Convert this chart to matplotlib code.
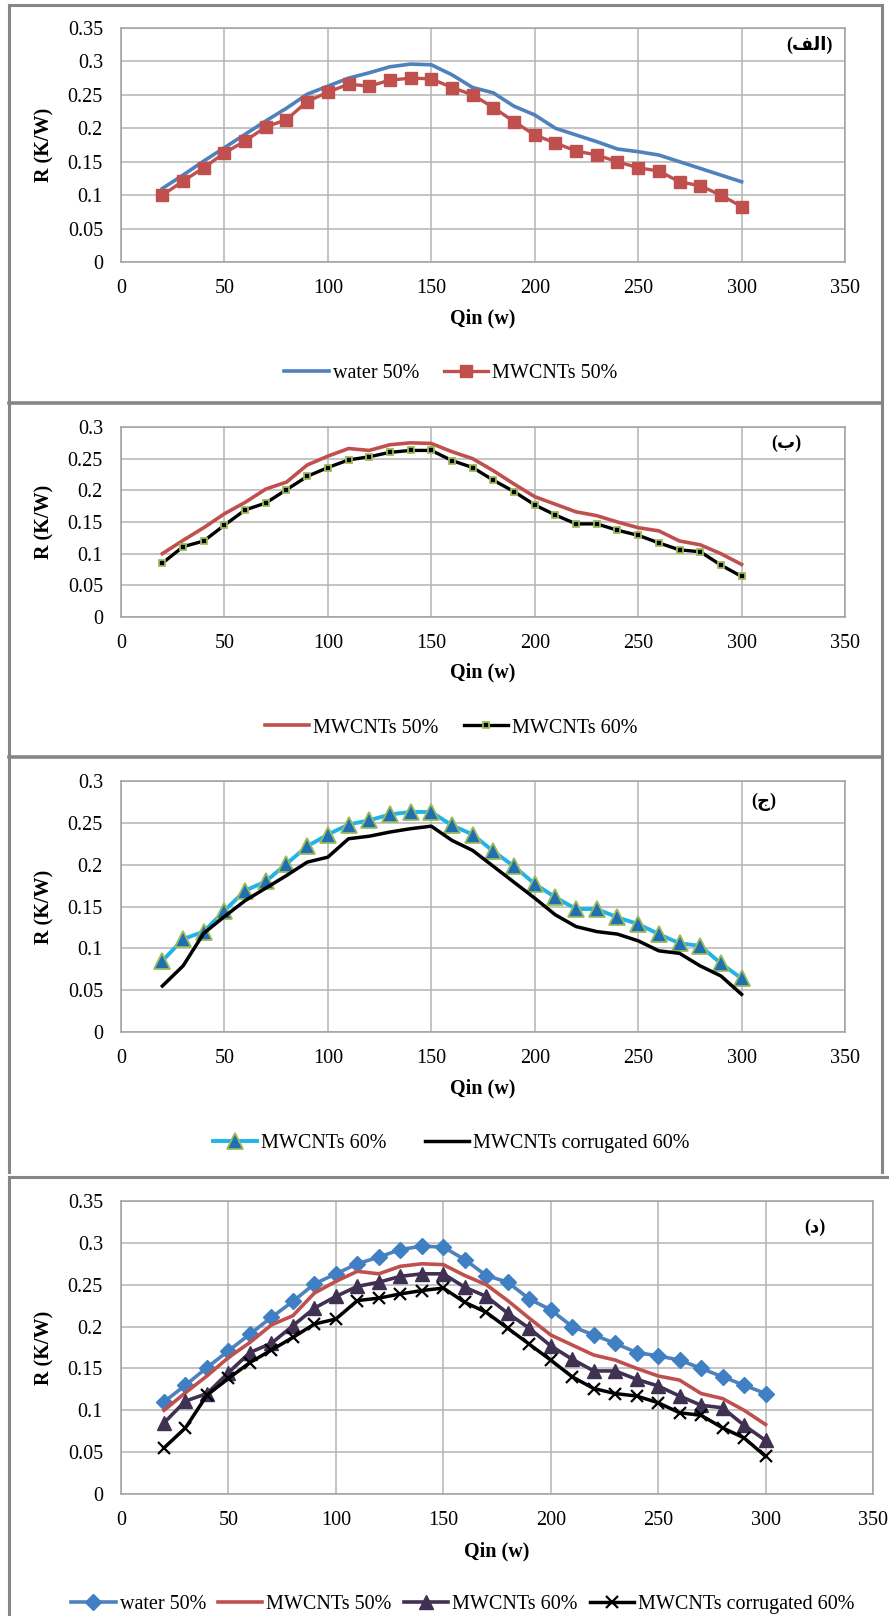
import matplotlib
matplotlib.use('Agg')
import matplotlib.pyplot as plt
from matplotlib.lines import Line2D

# ---------------- data ----------------
qin = [20, 30, 40, 50, 60, 70, 80, 90, 100, 110, 120, 130, 140, 150, 160,
       170, 180, 190, 200, 210, 220, 230, 240, 250, 260, 270, 280, 290, 300]

water50 = [0.110, 0.130, 0.151, 0.171, 0.191, 0.211, 0.230, 0.251, 0.263, 0.275,
           0.283, 0.292, 0.296, 0.295, 0.280, 0.261, 0.253, 0.233, 0.220, 0.200,
           0.190, 0.180, 0.169, 0.165, 0.160, 0.150, 0.140, 0.130, 0.120]

mwcnt50 = [0.100, 0.121, 0.141, 0.163, 0.181, 0.202, 0.213, 0.240, 0.254, 0.266,
           0.263, 0.272, 0.275, 0.274, 0.261, 0.250, 0.231, 0.210, 0.190, 0.178,
           0.166, 0.160, 0.150, 0.141, 0.136, 0.120, 0.114, 0.100, 0.083]

mwcnt60 = [0.085, 0.111, 0.120, 0.145, 0.169, 0.180, 0.201, 0.222, 0.236, 0.248,
           0.253, 0.260, 0.263, 0.263, 0.247, 0.236, 0.216, 0.198, 0.177, 0.161,
           0.147, 0.147, 0.137, 0.129, 0.117, 0.106, 0.103, 0.082, 0.064]

corr60 = [0.055, 0.079, 0.118, 0.138, 0.157, 0.172, 0.187, 0.203, 0.209, 0.231,
          0.234, 0.239, 0.243, 0.246, 0.229, 0.217, 0.198, 0.179, 0.160, 0.140,
          0.126, 0.120, 0.117, 0.109, 0.097, 0.094, 0.079, 0.067, 0.045]

x_ticks = [0, 50, 100, 150, 200, 250, 300, 350]
x_ticklabels = ['0', '50', '100', '150', '200', '250', '300', '350']
y_ticks_035 = [0, 0.05, 0.1, 0.15, 0.2, 0.25, 0.3, 0.35]
y_labels_035 = ['0', '0.05', '0.1', '0.15', '0.2', '0.25', '0.3', '0.35']
y_ticks_03 = [0, 0.05, 0.1, 0.15, 0.2, 0.25, 0.3]
y_labels_03 = ['0', '0.05', '0.1', '0.15', '0.2', '0.25', '0.3']

lbl_water = 'water 50%'
lbl_m50 = 'MWCNTs 50%'
lbl_m60 = 'MWCNTs 60%'
lbl_corr = 'MWCNTs corrugated 60%'
x_title = 'Qin (w)'
y_title = 'R (K/W)'
# Persian panel tags (presentation forms, visual order)
tag_alef = '(\ufed2\ufedf\ufe8d)'   # (الف)
tag_be = '(\ufe8f)'                 # (ب)
tag_jim = '(\ufe9d)'                # (ج)
tag_dal = '(\ufea9)'                # (د)

# ---------------- style ----------------
W, H = 889, 1616
plt.rcParams['font.family'] = ['Liberation Serif', 'DejaVu Sans']
FS = 14.5
GRID = '#b4b4b4'
SPINE = '#a0a0a0'
FRAME = '#868686'

BLUE = '#4f81bd'
RED = '#c0504d'
GREEN = '#9bbb59'
CYAN = '#1fb3ec'
TRI_BLUE = '#1f6fb5'
PURPLE = '#403152'

fig = plt.figure(figsize=(W / 100, H / 100), dpi=100)


def fx(x):
    return x / W


def fy(y):
    return 1 - y / H


def add_ax(l, r, t, b, yt, yl):
    ax = fig.add_axes([fx(l), fy(b), (r - l) / W, (b - t) / H])
    ax.set_xlim(0, 350)
    ax.set_ylim(0, yt[-1])
    ax.set_xticks(x_ticks, x_ticklabels)
    ax.set_yticks(yt, yl)
    ax.tick_params(length=0, labelsize=FS)
    ax.tick_params(axis='x', pad=12)
    ax.tick_params(axis='y', pad=13)
    ax.grid(True, color=GRID, lw=1.1)
    ax.set_axisbelow(True)
    for s in ax.spines.values():
        s.set_color(SPINE)
        s.set_linewidth(1.1)
    return ax


def finish(ax, t, b, xlab_y, ylab_x, leg_x, leg_y, tag, tag_xy, ncol, colsp):
    bbox = ax.get_position()
    ax.set_xlabel(x_title, fontsize=FS, fontweight='bold')
    ax.xaxis.set_label_coords((bbox.x0 + bbox.x1) / 2, fy(xlab_y), transform=fig.transFigure)
    ax.xaxis.label.set_va('center')
    ax.set_ylabel(y_title, fontsize=FS, fontweight='bold')
    ax.yaxis.set_label_coords(fx(ylab_x), (fy(t) + fy(b)) / 2, transform=fig.transFigure)
    ax.yaxis.label.set_va('center')
    ax.yaxis.label.set_ha('center')
    fig.text(fx(tag_xy[0]), fy(tag_xy[1]), tag, fontsize=13, ha='center', va='center',
             fontweight='bold')
    ax.legend(loc='center', bbox_to_anchor=(fx(leg_x), fy(leg_y)),
              bbox_transform=fig.transFigure, ncol=ncol, frameon=False,
              fontsize=FS, handlelength=2.2, handletextpad=0.2,
              columnspacing=colsp, borderpad=0, numpoints=1)


L, R = 121, 845

# ---- panel 1 (الف)
ax1 = add_ax(L, R, 28, 262, y_ticks_035, y_labels_035)
ax1.plot(qin, water50, color=BLUE, lw=2.6, label=lbl_water)
ax1.plot(qin, mwcnt50, color=RED, lw=2.4, marker='s', ms=8.5, mfc=RED, mec=RED,
         label=lbl_m50)
finish(ax1, 28, 262, 318, 44, 451, 373, tag_alef, (809, 45), 2, 1.25)

# ---- panel 2 (ب)
ax2 = add_ax(L, R, 427, 617, y_ticks_03, y_labels_03)
ax2.plot(qin, mwcnt50, color=RED, lw=2.6, label=lbl_m50)
ax2.plot(qin, mwcnt60, color='black', lw=2.4, marker='s', ms=5, mfc='black',
         mec=GREEN, mew=1.3, label=lbl_m60)
finish(ax2, 427, 617, 672, 44, 451, 728, tag_be, (786, 443), 2, 1.25)

# ---- panel 3 (ج)
ax3 = add_ax(L, R, 781, 1032, y_ticks_03, y_labels_03)
ax3.plot(qin, mwcnt60, color=CYAN, lw=2.8, marker='^', ms=11, mfc=TRI_BLUE,
         mec=GREEN, mew=1.3, label=lbl_m60)
ax3.plot(qin, corr60, color='black', lw=2.5, label=lbl_corr)
finish(ax3, 781, 1032, 1088, 44, 451, 1143, tag_jim, (764, 802), 2, 1.9)

# ---- panel 4 (د)
ax4 = add_ax(L, 873, 1201, 1494, y_ticks_035, y_labels_035)
ax4.plot(qin, water50, color=BLUE, lw=2.6, marker='D', ms=8.5, mfc='#3f7fc4',
         mec='#3f7fc4', label=lbl_water)
ax4.plot(qin, mwcnt50, color=RED, lw=2.6, label=lbl_m50)
ax4.plot(qin, mwcnt60, color=PURPLE, lw=2.6, marker='^', ms=10, mfc=PURPLE,
         mec=PURPLE, label=lbl_m60)
ax4.plot(qin, corr60, color='black', lw=2.5, marker='x', ms=9, mew=1.6,
         mec='black', label=lbl_corr)
finish(ax4, 1201, 1494, 1551, 44, 463, 1604, tag_dal, (815, 1227), 4, 0.6)

# ---- panel frames (decoration)
def seg(x0, y0, x1, y1, lw=2.2):
    fig.add_artist(Line2D([fx(x0), fx(x1)], [fy(y0), fy(y1)],
                          transform=fig.transFigure, color=FRAME, lw=lw))

seg(8.5, 5, 882, 5)
seg(8.5, 5, 8.5, 1172)
seg(882, 5, 882, 1172)
seg(8.5, 403, 882, 403, 2.6)
seg(8.5, 757, 882, 757, 2.6)
seg(9, 1177, 889, 1177)
seg(9, 1177, 9, 1616)

fig.savefig('out.png', dpi=100)
